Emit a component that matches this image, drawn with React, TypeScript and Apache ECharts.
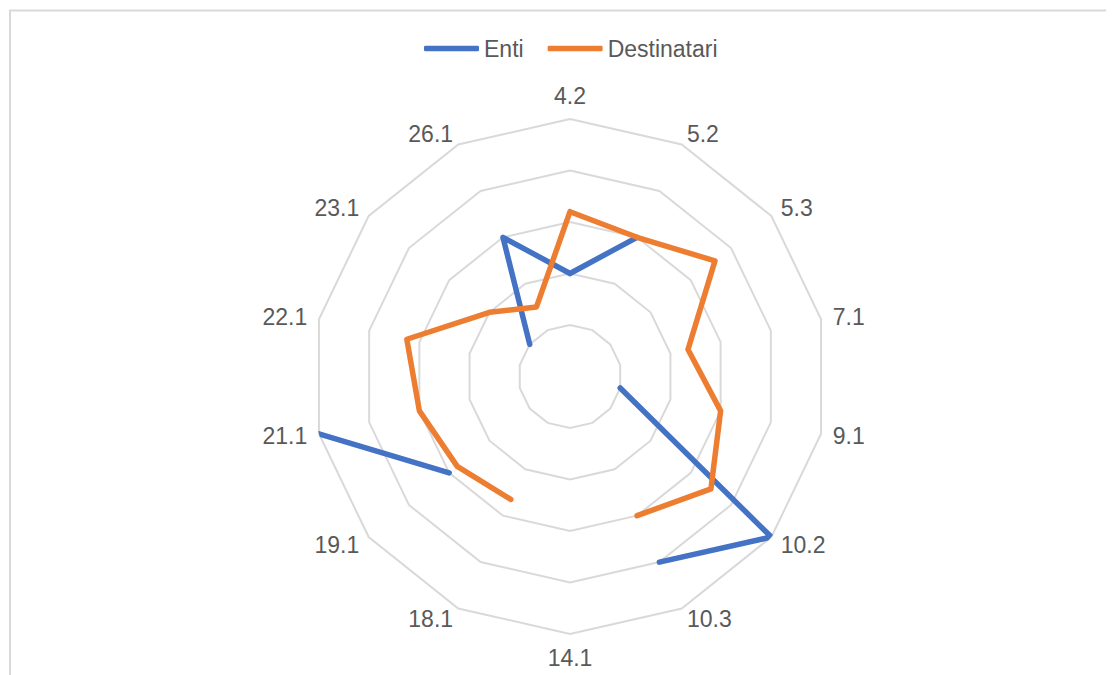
import React, { useEffect, useRef } from "react";
import * as echarts from "echarts";

// Indicator codes, listed clockwise from the top of the chart
const indicators: string[] = [
  "4.2", "5.2", "5.3", "7.1", "9.1", "10.2", "10.3",
  "14.1", "18.1", "19.1", "21.1", "22.1", "23.1", "26.1",
];

// Scores per indicator (null = no value, leaves a gap in the line)
const enti: (number | null)[] = [2, 3, null, null, 1, 5, 4, null, null, 3, 5, null, 1, 3];
const destinatari: (number | null)[] = [3.2, 3.0, 3.6, 2.35, 3.0, 3.5, 3.0, null, 2.65, 2.8, 3.0, 3.25, 2.0, 1.5];

const seriesNames: string[] = ["Enti", "Destinatari"];
const scaleMax = 5;

const FONT = '"Liberation Sans", Arial, Helvetica, sans-serif';
const FONT_SIZE = 23;
const TEXT = "#595959";
const GRID = "#D9D9D9";
const BLUE = "#4472C4";
const ORANGE = "#ED7D31";

const CENTER: [number, number] = [562, 368.5];
const RADIUS = 257.5;

// [radius, angleIndex] pairs on the polar system; the first point is repeated
// at the end so the outline closes back at the top axis.
function toPolar(values: (number | null)[]) {
  const pts = values.map((v, i) => (v == null ? ["-", i] : [v, i]));
  const first = values[0];
  pts.push(first == null ? ["-", values.length] : [first, values.length]);
  return pts;
}

// The radar component lays out its axes counter-clockwise, so feed it the
// indicators in reverse (keeping the first one at the top).
const radarOrder = [indicators[0], ...indicators.slice(1).reverse()];

export default function App() {
  const ref = useRef<HTMLDivElement>(null);

  useEffect(() => {
    if (!ref.current) return;
    const prevOverflow = document.body.style.overflow;
    document.body.style.overflow = "hidden";
    const chart = echarts.init(ref.current, null, { renderer: "svg" });

    const lineSeries = (name: string, values: (number | null)[], color: string) => ({
      name,
      type: "line",
      coordinateSystem: "polar",
      polarIndex: 0,
      data: toPolar(values),
      symbol: "none",
      connectNulls: false,
      color,
      lineStyle: { color, width: 5.5, cap: "round", join: "round" },
      z: 5,
    });

    chart.setOption({
      animation: false,
      backgroundColor: "#ffffff",
      textStyle: { fontFamily: FONT },
      graphic: [
        {
          type: "rect",
          silent: true,
          z: -10,
          shape: { x: 2, y: 2.5, width: 3000, height: 3000 },
          style: { fill: "none", stroke: GRID, lineWidth: 2 },
        },
      ],
      legend: {
        data: seriesNames,
        left: 416,
        top: 29,
        padding: 0,
        icon: "roundRect",
        itemWidth: 55,
        itemHeight: 5.5,
        itemGap: 24,
        textStyle: { color: TEXT, fontSize: FONT_SIZE, fontFamily: FONT },
      },
      radar: {
        center: CENTER,
        radius: RADIUS,
        startAngle: 90,
        shape: "polygon",
        splitNumber: 5,
        axisNameGap: 12,
        axisName: { color: TEXT, fontSize: FONT_SIZE, fontFamily: FONT },
        indicator: radarOrder.map((name) => ({ name, min: 0, max: scaleMax })),
        axisLine: { show: false },
        axisTick: { show: false },
        axisLabel: { show: false },
        splitArea: { show: false },
        splitLine: { lineStyle: { color: GRID, width: 2 } },
      },
      polar: { center: CENTER, radius: RADIUS },
      angleAxis: {
        type: "value",
        min: 0,
        max: indicators.length,
        startAngle: 90,
        clockwise: true,
        show: false,
      },
      radiusAxis: {
        type: "value",
        min: 0,
        max: scaleMax,
        show: false,
      },
      series: [
        lineSeries(seriesNames[0], enti, BLUE),
        lineSeries(seriesNames[1], destinatari, ORANGE),
      ],
    });

    return () => {
      chart.dispose();
      document.body.style.overflow = prevOverflow;
    };
  }, []);

  return <div ref={ref} style={{ width: 1098, height: 667 }} />;
}
